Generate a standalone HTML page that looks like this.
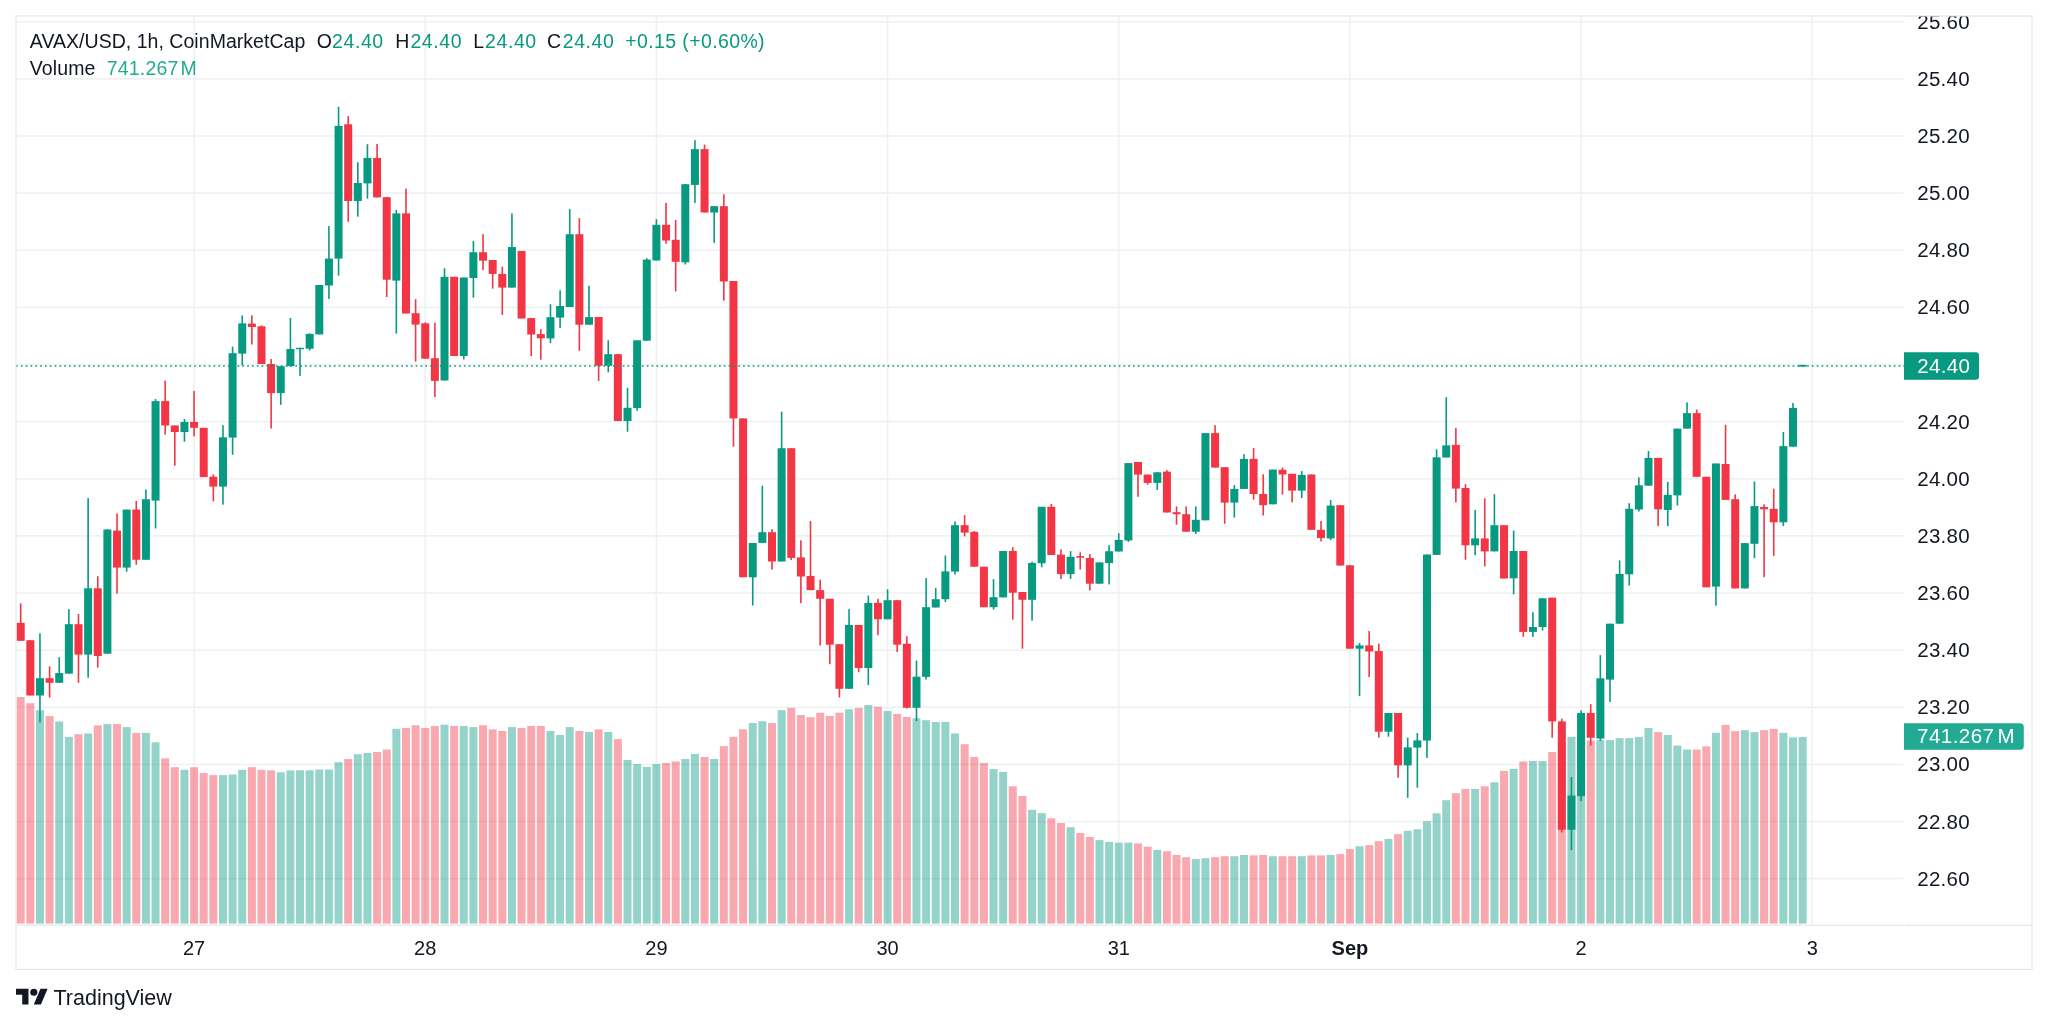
<!DOCTYPE html>
<html><head><meta charset="utf-8"><style>
html,body{margin:0;padding:0;background:#fff;width:2048px;height:1026px;overflow:hidden}
svg{position:absolute;left:0;top:0;display:block;will-change:transform}
text{font-family:"Liberation Sans",sans-serif}
.ax{font-size:20.5px;fill:#131722}
.tm{font-size:20px;fill:#131722}
.b{font-weight:bold}
.lg{font-size:19.5px;fill:#131722}
.up{fill:#089981}
.vu{fill:#22ab94}
</style></head><body>
<svg width="2048" height="1026" viewBox="0 0 2048 1026">
<rect width="2048" height="1026" fill="#fff"/>
<rect x="193.28" y="16.5" width="1.6" height="908" fill="#eff1f1"/>
<rect x="424.44" y="16.5" width="1.6" height="908" fill="#eff1f1"/>
<rect x="655.61" y="16.5" width="1.6" height="908" fill="#eff1f1"/>
<rect x="886.78" y="16.5" width="1.6" height="908" fill="#eff1f1"/>
<rect x="1117.95" y="16.5" width="1.6" height="908" fill="#eff1f1"/>
<rect x="1349.12" y="16.5" width="1.6" height="908" fill="#eff1f1"/>
<rect x="1580.28" y="16.5" width="1.6" height="908" fill="#eff1f1"/>
<rect x="1811.45" y="16.5" width="1.6" height="908" fill="#eff1f1"/>
<rect x="16.5" y="20.95" width="1887.3" height="1.6" fill="#eff1f1"/>
<rect x="16.5" y="78.08" width="1887.3" height="1.6" fill="#eff1f1"/>
<rect x="16.5" y="135.21" width="1887.3" height="1.6" fill="#eff1f1"/>
<rect x="16.5" y="192.34" width="1887.3" height="1.6" fill="#eff1f1"/>
<rect x="16.5" y="249.47" width="1887.3" height="1.6" fill="#eff1f1"/>
<rect x="16.5" y="306.60" width="1887.3" height="1.6" fill="#eff1f1"/>
<rect x="16.5" y="363.73" width="1887.3" height="1.6" fill="#eff1f1"/>
<rect x="16.5" y="420.86" width="1887.3" height="1.6" fill="#eff1f1"/>
<rect x="16.5" y="477.99" width="1887.3" height="1.6" fill="#eff1f1"/>
<rect x="16.5" y="535.12" width="1887.3" height="1.6" fill="#eff1f1"/>
<rect x="16.5" y="592.25" width="1887.3" height="1.6" fill="#eff1f1"/>
<rect x="16.5" y="649.38" width="1887.3" height="1.6" fill="#eff1f1"/>
<rect x="16.5" y="706.51" width="1887.3" height="1.6" fill="#eff1f1"/>
<rect x="16.5" y="763.64" width="1887.3" height="1.6" fill="#eff1f1"/>
<rect x="16.5" y="820.77" width="1887.3" height="1.6" fill="#eff1f1"/>
<rect x="16.5" y="877.90" width="1887.3" height="1.6" fill="#eff1f1"/>
<rect x="16.70" y="697.0" width="8.0" height="226.6" fill="rgba(242,54,69,0.43)"/>
<rect x="26.33" y="703.2" width="8.0" height="220.4" fill="rgba(242,54,69,0.43)"/>
<rect x="35.96" y="710.2" width="8.0" height="213.4" fill="rgba(8,153,129,0.43)"/>
<rect x="45.60" y="716.1" width="8.0" height="207.5" fill="rgba(242,54,69,0.43)"/>
<rect x="55.23" y="721.5" width="8.0" height="202.1" fill="rgba(8,153,129,0.43)"/>
<rect x="64.86" y="736.9" width="8.0" height="186.7" fill="rgba(8,153,129,0.43)"/>
<rect x="74.49" y="734.2" width="8.0" height="189.4" fill="rgba(242,54,69,0.43)"/>
<rect x="84.12" y="733.5" width="8.0" height="190.1" fill="rgba(8,153,129,0.43)"/>
<rect x="93.76" y="725.4" width="8.0" height="198.2" fill="rgba(242,54,69,0.43)"/>
<rect x="103.39" y="724.1" width="8.0" height="199.5" fill="rgba(8,153,129,0.43)"/>
<rect x="113.02" y="724.1" width="8.0" height="199.5" fill="rgba(242,54,69,0.43)"/>
<rect x="122.65" y="727.1" width="8.0" height="196.5" fill="rgba(8,153,129,0.43)"/>
<rect x="132.28" y="732.9" width="8.0" height="190.7" fill="rgba(242,54,69,0.43)"/>
<rect x="141.92" y="732.9" width="8.0" height="190.7" fill="rgba(8,153,129,0.43)"/>
<rect x="151.55" y="742.3" width="8.0" height="181.3" fill="rgba(8,153,129,0.43)"/>
<rect x="161.18" y="758.4" width="8.0" height="165.2" fill="rgba(242,54,69,0.43)"/>
<rect x="170.81" y="767.2" width="8.0" height="156.4" fill="rgba(242,54,69,0.43)"/>
<rect x="180.44" y="769.8" width="8.0" height="153.8" fill="rgba(8,153,129,0.43)"/>
<rect x="190.08" y="767.2" width="8.0" height="156.4" fill="rgba(242,54,69,0.43)"/>
<rect x="199.71" y="773.1" width="8.0" height="150.5" fill="rgba(242,54,69,0.43)"/>
<rect x="209.34" y="775.1" width="8.0" height="148.5" fill="rgba(242,54,69,0.43)"/>
<rect x="218.97" y="775.1" width="8.0" height="148.5" fill="rgba(8,153,129,0.43)"/>
<rect x="228.60" y="774.5" width="8.0" height="149.1" fill="rgba(8,153,129,0.43)"/>
<rect x="238.24" y="769.8" width="8.0" height="153.8" fill="rgba(8,153,129,0.43)"/>
<rect x="247.87" y="767.2" width="8.0" height="156.4" fill="rgba(242,54,69,0.43)"/>
<rect x="257.50" y="769.8" width="8.0" height="153.8" fill="rgba(242,54,69,0.43)"/>
<rect x="267.13" y="770.3" width="8.0" height="153.3" fill="rgba(242,54,69,0.43)"/>
<rect x="276.76" y="772.2" width="8.0" height="151.4" fill="rgba(8,153,129,0.43)"/>
<rect x="286.40" y="770.4" width="8.0" height="153.2" fill="rgba(8,153,129,0.43)"/>
<rect x="296.03" y="770.3" width="8.0" height="153.3" fill="rgba(8,153,129,0.43)"/>
<rect x="305.66" y="770.3" width="8.0" height="153.3" fill="rgba(8,153,129,0.43)"/>
<rect x="315.29" y="769.5" width="8.0" height="154.1" fill="rgba(8,153,129,0.43)"/>
<rect x="324.92" y="769.5" width="8.0" height="154.1" fill="rgba(8,153,129,0.43)"/>
<rect x="334.56" y="762.2" width="8.0" height="161.4" fill="rgba(8,153,129,0.43)"/>
<rect x="344.19" y="759.0" width="8.0" height="164.6" fill="rgba(242,54,69,0.43)"/>
<rect x="353.82" y="754.2" width="8.0" height="169.4" fill="rgba(8,153,129,0.43)"/>
<rect x="363.45" y="753.0" width="8.0" height="170.6" fill="rgba(8,153,129,0.43)"/>
<rect x="373.08" y="752.0" width="8.0" height="171.6" fill="rgba(242,54,69,0.43)"/>
<rect x="382.72" y="749.5" width="8.0" height="174.1" fill="rgba(242,54,69,0.43)"/>
<rect x="392.35" y="728.8" width="8.0" height="194.8" fill="rgba(8,153,129,0.43)"/>
<rect x="401.98" y="727.9" width="8.0" height="195.7" fill="rgba(242,54,69,0.43)"/>
<rect x="411.61" y="725.2" width="8.0" height="198.4" fill="rgba(242,54,69,0.43)"/>
<rect x="421.24" y="727.9" width="8.0" height="195.7" fill="rgba(242,54,69,0.43)"/>
<rect x="430.88" y="726.0" width="8.0" height="197.6" fill="rgba(242,54,69,0.43)"/>
<rect x="440.51" y="724.7" width="8.0" height="198.9" fill="rgba(8,153,129,0.43)"/>
<rect x="450.14" y="726.0" width="8.0" height="197.6" fill="rgba(242,54,69,0.43)"/>
<rect x="459.77" y="726.0" width="8.0" height="197.6" fill="rgba(8,153,129,0.43)"/>
<rect x="469.40" y="727.1" width="8.0" height="196.5" fill="rgba(8,153,129,0.43)"/>
<rect x="479.04" y="725.2" width="8.0" height="198.4" fill="rgba(242,54,69,0.43)"/>
<rect x="488.67" y="729.4" width="8.0" height="194.2" fill="rgba(242,54,69,0.43)"/>
<rect x="498.30" y="731.0" width="8.0" height="192.6" fill="rgba(242,54,69,0.43)"/>
<rect x="507.93" y="727.1" width="8.0" height="196.5" fill="rgba(8,153,129,0.43)"/>
<rect x="517.56" y="727.9" width="8.0" height="195.7" fill="rgba(242,54,69,0.43)"/>
<rect x="527.20" y="726.0" width="8.0" height="197.6" fill="rgba(242,54,69,0.43)"/>
<rect x="536.83" y="726.0" width="8.0" height="197.6" fill="rgba(242,54,69,0.43)"/>
<rect x="546.46" y="731.0" width="8.0" height="192.6" fill="rgba(8,153,129,0.43)"/>
<rect x="556.09" y="735.0" width="8.0" height="188.6" fill="rgba(8,153,129,0.43)"/>
<rect x="565.72" y="727.1" width="8.0" height="196.5" fill="rgba(8,153,129,0.43)"/>
<rect x="575.36" y="731.0" width="8.0" height="192.6" fill="rgba(242,54,69,0.43)"/>
<rect x="584.99" y="732.0" width="8.0" height="191.6" fill="rgba(8,153,129,0.43)"/>
<rect x="594.62" y="729.4" width="8.0" height="194.2" fill="rgba(242,54,69,0.43)"/>
<rect x="604.25" y="732.0" width="8.0" height="191.6" fill="rgba(8,153,129,0.43)"/>
<rect x="613.88" y="739.1" width="8.0" height="184.5" fill="rgba(242,54,69,0.43)"/>
<rect x="623.52" y="760.0" width="8.0" height="163.6" fill="rgba(8,153,129,0.43)"/>
<rect x="633.15" y="764.0" width="8.0" height="159.6" fill="rgba(8,153,129,0.43)"/>
<rect x="642.78" y="766.9" width="8.0" height="156.7" fill="rgba(8,153,129,0.43)"/>
<rect x="652.41" y="764.0" width="8.0" height="159.6" fill="rgba(8,153,129,0.43)"/>
<rect x="662.04" y="763.0" width="8.0" height="160.6" fill="rgba(242,54,69,0.43)"/>
<rect x="671.68" y="761.5" width="8.0" height="162.1" fill="rgba(242,54,69,0.43)"/>
<rect x="681.31" y="759.0" width="8.0" height="164.6" fill="rgba(8,153,129,0.43)"/>
<rect x="690.94" y="754.0" width="8.0" height="169.6" fill="rgba(8,153,129,0.43)"/>
<rect x="700.57" y="756.9" width="8.0" height="166.7" fill="rgba(242,54,69,0.43)"/>
<rect x="710.20" y="759.0" width="8.0" height="164.6" fill="rgba(8,153,129,0.43)"/>
<rect x="719.84" y="746.1" width="8.0" height="177.5" fill="rgba(242,54,69,0.43)"/>
<rect x="729.47" y="736.9" width="8.0" height="186.7" fill="rgba(242,54,69,0.43)"/>
<rect x="739.10" y="729.3" width="8.0" height="194.3" fill="rgba(242,54,69,0.43)"/>
<rect x="748.73" y="723.0" width="8.0" height="200.6" fill="rgba(8,153,129,0.43)"/>
<rect x="758.36" y="721.2" width="8.0" height="202.4" fill="rgba(8,153,129,0.43)"/>
<rect x="768.00" y="723.0" width="8.0" height="200.6" fill="rgba(242,54,69,0.43)"/>
<rect x="777.63" y="710.1" width="8.0" height="213.5" fill="rgba(8,153,129,0.43)"/>
<rect x="787.26" y="707.9" width="8.0" height="215.7" fill="rgba(242,54,69,0.43)"/>
<rect x="796.89" y="715.0" width="8.0" height="208.6" fill="rgba(242,54,69,0.43)"/>
<rect x="806.52" y="717.2" width="8.0" height="206.4" fill="rgba(242,54,69,0.43)"/>
<rect x="816.16" y="712.7" width="8.0" height="210.9" fill="rgba(242,54,69,0.43)"/>
<rect x="825.79" y="715.9" width="8.0" height="207.7" fill="rgba(242,54,69,0.43)"/>
<rect x="835.42" y="712.7" width="8.0" height="210.9" fill="rgba(242,54,69,0.43)"/>
<rect x="845.05" y="709.2" width="8.0" height="214.4" fill="rgba(8,153,129,0.43)"/>
<rect x="854.68" y="707.9" width="8.0" height="215.7" fill="rgba(242,54,69,0.43)"/>
<rect x="864.32" y="705.1" width="8.0" height="218.5" fill="rgba(8,153,129,0.43)"/>
<rect x="873.95" y="706.8" width="8.0" height="216.8" fill="rgba(242,54,69,0.43)"/>
<rect x="883.58" y="711.0" width="8.0" height="212.6" fill="rgba(8,153,129,0.43)"/>
<rect x="893.21" y="714.0" width="8.0" height="209.6" fill="rgba(242,54,69,0.43)"/>
<rect x="902.84" y="716.9" width="8.0" height="206.7" fill="rgba(242,54,69,0.43)"/>
<rect x="912.48" y="718.2" width="8.0" height="205.4" fill="rgba(8,153,129,0.43)"/>
<rect x="922.11" y="720.2" width="8.0" height="203.4" fill="rgba(8,153,129,0.43)"/>
<rect x="931.74" y="722.0" width="8.0" height="201.6" fill="rgba(8,153,129,0.43)"/>
<rect x="941.37" y="722.0" width="8.0" height="201.6" fill="rgba(8,153,129,0.43)"/>
<rect x="951.00" y="733.4" width="8.0" height="190.2" fill="rgba(8,153,129,0.43)"/>
<rect x="960.64" y="744.2" width="8.0" height="179.4" fill="rgba(242,54,69,0.43)"/>
<rect x="970.27" y="757.0" width="8.0" height="166.6" fill="rgba(242,54,69,0.43)"/>
<rect x="979.90" y="762.9" width="8.0" height="160.7" fill="rgba(242,54,69,0.43)"/>
<rect x="989.53" y="769.0" width="8.0" height="154.6" fill="rgba(8,153,129,0.43)"/>
<rect x="999.16" y="772.0" width="8.0" height="151.6" fill="rgba(8,153,129,0.43)"/>
<rect x="1008.80" y="786.3" width="8.0" height="137.3" fill="rgba(242,54,69,0.43)"/>
<rect x="1018.43" y="796.0" width="8.0" height="127.6" fill="rgba(242,54,69,0.43)"/>
<rect x="1028.06" y="809.8" width="8.0" height="113.8" fill="rgba(8,153,129,0.43)"/>
<rect x="1037.69" y="813.1" width="8.0" height="110.5" fill="rgba(8,153,129,0.43)"/>
<rect x="1047.32" y="818.4" width="8.0" height="105.2" fill="rgba(242,54,69,0.43)"/>
<rect x="1056.96" y="823.0" width="8.0" height="100.6" fill="rgba(242,54,69,0.43)"/>
<rect x="1066.59" y="827.2" width="8.0" height="96.4" fill="rgba(8,153,129,0.43)"/>
<rect x="1076.22" y="833.0" width="8.0" height="90.6" fill="rgba(242,54,69,0.43)"/>
<rect x="1085.85" y="837.0" width="8.0" height="86.6" fill="rgba(242,54,69,0.43)"/>
<rect x="1095.48" y="840.1" width="8.0" height="83.5" fill="rgba(8,153,129,0.43)"/>
<rect x="1105.12" y="841.9" width="8.0" height="81.7" fill="rgba(8,153,129,0.43)"/>
<rect x="1114.75" y="842.6" width="8.0" height="81.0" fill="rgba(8,153,129,0.43)"/>
<rect x="1124.38" y="842.6" width="8.0" height="81.0" fill="rgba(8,153,129,0.43)"/>
<rect x="1134.01" y="843.4" width="8.0" height="80.2" fill="rgba(242,54,69,0.43)"/>
<rect x="1143.64" y="846.7" width="8.0" height="76.9" fill="rgba(242,54,69,0.43)"/>
<rect x="1153.28" y="849.9" width="8.0" height="73.7" fill="rgba(8,153,129,0.43)"/>
<rect x="1162.91" y="851.2" width="8.0" height="72.4" fill="rgba(242,54,69,0.43)"/>
<rect x="1172.54" y="855.0" width="8.0" height="68.6" fill="rgba(242,54,69,0.43)"/>
<rect x="1182.17" y="857.2" width="8.0" height="66.4" fill="rgba(242,54,69,0.43)"/>
<rect x="1191.80" y="859.1" width="8.0" height="64.5" fill="rgba(8,153,129,0.43)"/>
<rect x="1201.44" y="858.2" width="8.0" height="65.4" fill="rgba(8,153,129,0.43)"/>
<rect x="1211.07" y="857.2" width="8.0" height="66.4" fill="rgba(242,54,69,0.43)"/>
<rect x="1220.70" y="856.2" width="8.0" height="67.4" fill="rgba(242,54,69,0.43)"/>
<rect x="1230.33" y="856.2" width="8.0" height="67.4" fill="rgba(8,153,129,0.43)"/>
<rect x="1239.96" y="855.0" width="8.0" height="68.6" fill="rgba(8,153,129,0.43)"/>
<rect x="1249.60" y="855.4" width="8.0" height="68.2" fill="rgba(242,54,69,0.43)"/>
<rect x="1259.23" y="855.0" width="8.0" height="68.6" fill="rgba(242,54,69,0.43)"/>
<rect x="1268.86" y="856.2" width="8.0" height="67.4" fill="rgba(8,153,129,0.43)"/>
<rect x="1278.49" y="856.2" width="8.0" height="67.4" fill="rgba(242,54,69,0.43)"/>
<rect x="1288.12" y="856.2" width="8.0" height="67.4" fill="rgba(242,54,69,0.43)"/>
<rect x="1297.76" y="856.2" width="8.0" height="67.4" fill="rgba(8,153,129,0.43)"/>
<rect x="1307.39" y="855.4" width="8.0" height="68.2" fill="rgba(242,54,69,0.43)"/>
<rect x="1317.02" y="855.4" width="8.0" height="68.2" fill="rgba(242,54,69,0.43)"/>
<rect x="1326.65" y="855.0" width="8.0" height="68.6" fill="rgba(8,153,129,0.43)"/>
<rect x="1336.28" y="854.1" width="8.0" height="69.5" fill="rgba(242,54,69,0.43)"/>
<rect x="1345.92" y="849.1" width="8.0" height="74.5" fill="rgba(242,54,69,0.43)"/>
<rect x="1355.55" y="846.2" width="8.0" height="77.4" fill="rgba(8,153,129,0.43)"/>
<rect x="1365.18" y="845.2" width="8.0" height="78.4" fill="rgba(242,54,69,0.43)"/>
<rect x="1374.81" y="841.2" width="8.0" height="82.4" fill="rgba(242,54,69,0.43)"/>
<rect x="1384.44" y="838.9" width="8.0" height="84.7" fill="rgba(8,153,129,0.43)"/>
<rect x="1394.08" y="834.2" width="8.0" height="89.4" fill="rgba(242,54,69,0.43)"/>
<rect x="1403.71" y="830.8" width="8.0" height="92.8" fill="rgba(8,153,129,0.43)"/>
<rect x="1413.34" y="829.2" width="8.0" height="94.4" fill="rgba(8,153,129,0.43)"/>
<rect x="1422.97" y="821.2" width="8.0" height="102.4" fill="rgba(8,153,129,0.43)"/>
<rect x="1432.60" y="813.3" width="8.0" height="110.3" fill="rgba(8,153,129,0.43)"/>
<rect x="1442.24" y="800.2" width="8.0" height="123.4" fill="rgba(8,153,129,0.43)"/>
<rect x="1451.87" y="793.2" width="8.0" height="130.4" fill="rgba(242,54,69,0.43)"/>
<rect x="1461.50" y="789.0" width="8.0" height="134.6" fill="rgba(242,54,69,0.43)"/>
<rect x="1471.13" y="789.0" width="8.0" height="134.6" fill="rgba(8,153,129,0.43)"/>
<rect x="1480.76" y="786.3" width="8.0" height="137.3" fill="rgba(242,54,69,0.43)"/>
<rect x="1490.40" y="782.3" width="8.0" height="141.3" fill="rgba(8,153,129,0.43)"/>
<rect x="1500.03" y="770.9" width="8.0" height="152.7" fill="rgba(242,54,69,0.43)"/>
<rect x="1509.66" y="768.8" width="8.0" height="154.8" fill="rgba(8,153,129,0.43)"/>
<rect x="1519.29" y="761.5" width="8.0" height="162.1" fill="rgba(242,54,69,0.43)"/>
<rect x="1528.92" y="761.0" width="8.0" height="162.6" fill="rgba(8,153,129,0.43)"/>
<rect x="1538.56" y="761.0" width="8.0" height="162.6" fill="rgba(8,153,129,0.43)"/>
<rect x="1548.19" y="751.9" width="8.0" height="171.7" fill="rgba(242,54,69,0.43)"/>
<rect x="1557.82" y="742.0" width="8.0" height="181.6" fill="rgba(242,54,69,0.43)"/>
<rect x="1567.45" y="736.9" width="8.0" height="186.7" fill="rgba(8,153,129,0.43)"/>
<rect x="1577.08" y="737.0" width="8.0" height="186.6" fill="rgba(8,153,129,0.43)"/>
<rect x="1586.72" y="740.6" width="8.0" height="183.0" fill="rgba(242,54,69,0.43)"/>
<rect x="1596.35" y="740.1" width="8.0" height="183.5" fill="rgba(8,153,129,0.43)"/>
<rect x="1605.98" y="740.1" width="8.0" height="183.5" fill="rgba(8,153,129,0.43)"/>
<rect x="1615.61" y="738.1" width="8.0" height="185.5" fill="rgba(8,153,129,0.43)"/>
<rect x="1625.24" y="738.1" width="8.0" height="185.5" fill="rgba(8,153,129,0.43)"/>
<rect x="1634.88" y="736.9" width="8.0" height="186.7" fill="rgba(8,153,129,0.43)"/>
<rect x="1644.51" y="728.0" width="8.0" height="195.6" fill="rgba(8,153,129,0.43)"/>
<rect x="1654.14" y="732.1" width="8.0" height="191.5" fill="rgba(242,54,69,0.43)"/>
<rect x="1663.77" y="735.0" width="8.0" height="188.6" fill="rgba(8,153,129,0.43)"/>
<rect x="1673.40" y="745.6" width="8.0" height="178.0" fill="rgba(8,153,129,0.43)"/>
<rect x="1683.04" y="749.5" width="8.0" height="174.1" fill="rgba(8,153,129,0.43)"/>
<rect x="1692.67" y="749.5" width="8.0" height="174.1" fill="rgba(242,54,69,0.43)"/>
<rect x="1702.30" y="746.3" width="8.0" height="177.3" fill="rgba(242,54,69,0.43)"/>
<rect x="1711.93" y="732.8" width="8.0" height="190.8" fill="rgba(8,153,129,0.43)"/>
<rect x="1721.56" y="724.9" width="8.0" height="198.7" fill="rgba(242,54,69,0.43)"/>
<rect x="1731.20" y="731.1" width="8.0" height="192.5" fill="rgba(242,54,69,0.43)"/>
<rect x="1740.83" y="730.2" width="8.0" height="193.4" fill="rgba(8,153,129,0.43)"/>
<rect x="1750.46" y="732.1" width="8.0" height="191.5" fill="rgba(8,153,129,0.43)"/>
<rect x="1760.09" y="730.2" width="8.0" height="193.4" fill="rgba(242,54,69,0.43)"/>
<rect x="1769.72" y="728.8" width="8.0" height="194.8" fill="rgba(242,54,69,0.43)"/>
<rect x="1779.36" y="732.8" width="8.0" height="190.8" fill="rgba(8,153,129,0.43)"/>
<rect x="1788.99" y="737.4" width="8.0" height="186.2" fill="rgba(8,153,129,0.43)"/>
<rect x="1798.62" y="736.9" width="8.0" height="186.7" fill="rgba(8,153,129,0.43)"/>
<rect x="19.90" y="603.3" width="1.6" height="37.5" fill="#f23645"/>
<rect x="16.70" y="622.8" width="8.0" height="18.0" fill="#f23645"/>
<rect x="29.53" y="640.2" width="1.6" height="55.3" fill="#f23645"/>
<rect x="26.33" y="640.2" width="8.0" height="55.3" fill="#f23645"/>
<rect x="39.16" y="633.4" width="1.6" height="89.1" fill="#089981"/>
<rect x="35.96" y="678.2" width="8.0" height="17.3" fill="#089981"/>
<rect x="48.80" y="666.3" width="1.6" height="31.4" fill="#f23645"/>
<rect x="45.60" y="678.2" width="8.0" height="4.6" fill="#f23645"/>
<rect x="58.43" y="657.2" width="1.6" height="25.6" fill="#089981"/>
<rect x="55.23" y="673.1" width="8.0" height="9.7" fill="#089981"/>
<rect x="68.06" y="609.2" width="1.6" height="64.4" fill="#089981"/>
<rect x="64.86" y="624.2" width="8.0" height="49.4" fill="#089981"/>
<rect x="77.69" y="614.0" width="1.6" height="68.8" fill="#f23645"/>
<rect x="74.49" y="624.2" width="8.0" height="30.4" fill="#f23645"/>
<rect x="87.32" y="498.1" width="1.6" height="179.6" fill="#089981"/>
<rect x="84.12" y="588.3" width="8.0" height="66.3" fill="#089981"/>
<rect x="96.96" y="576.2" width="1.6" height="91.4" fill="#f23645"/>
<rect x="93.76" y="588.3" width="8.0" height="67.7" fill="#f23645"/>
<rect x="106.59" y="529.3" width="1.6" height="124.4" fill="#089981"/>
<rect x="103.39" y="529.5" width="8.0" height="124.2" fill="#089981"/>
<rect x="116.22" y="513.5" width="1.6" height="80.1" fill="#f23645"/>
<rect x="113.02" y="530.6" width="8.0" height="37.0" fill="#f23645"/>
<rect x="125.85" y="509.6" width="1.6" height="62.1" fill="#089981"/>
<rect x="122.65" y="509.6" width="8.0" height="58.0" fill="#089981"/>
<rect x="135.48" y="501.0" width="1.6" height="63.8" fill="#f23645"/>
<rect x="132.28" y="509.6" width="8.0" height="50.2" fill="#f23645"/>
<rect x="145.12" y="489.4" width="1.6" height="70.4" fill="#089981"/>
<rect x="141.92" y="499.2" width="8.0" height="60.6" fill="#089981"/>
<rect x="154.75" y="399.0" width="1.6" height="129.5" fill="#089981"/>
<rect x="151.55" y="401.1" width="8.0" height="99.5" fill="#089981"/>
<rect x="164.38" y="380.6" width="1.6" height="54.1" fill="#f23645"/>
<rect x="161.18" y="401.1" width="8.0" height="24.4" fill="#f23645"/>
<rect x="174.01" y="425.5" width="1.6" height="40.2" fill="#f23645"/>
<rect x="170.81" y="425.5" width="8.0" height="6.5" fill="#f23645"/>
<rect x="183.64" y="419.0" width="1.6" height="22.7" fill="#089981"/>
<rect x="180.44" y="422.0" width="8.0" height="10.0" fill="#089981"/>
<rect x="193.28" y="390.9" width="1.6" height="45.5" fill="#f23645"/>
<rect x="190.08" y="422.0" width="8.0" height="5.8" fill="#f23645"/>
<rect x="202.91" y="427.8" width="1.6" height="49.3" fill="#f23645"/>
<rect x="199.71" y="427.8" width="8.0" height="49.3" fill="#f23645"/>
<rect x="212.54" y="474.3" width="1.6" height="27.1" fill="#f23645"/>
<rect x="209.34" y="476.7" width="8.0" height="9.9" fill="#f23645"/>
<rect x="222.17" y="425.2" width="1.6" height="79.5" fill="#089981"/>
<rect x="218.97" y="437.3" width="8.0" height="49.3" fill="#089981"/>
<rect x="231.80" y="346.7" width="1.6" height="108.1" fill="#089981"/>
<rect x="228.60" y="353.2" width="8.0" height="84.4" fill="#089981"/>
<rect x="241.44" y="315.3" width="1.6" height="50.2" fill="#089981"/>
<rect x="238.24" y="323.4" width="8.0" height="30.2" fill="#089981"/>
<rect x="251.07" y="315.3" width="1.6" height="29.2" fill="#f23645"/>
<rect x="247.87" y="323.6" width="8.0" height="3.4" fill="#f23645"/>
<rect x="260.70" y="325.4" width="1.6" height="38.6" fill="#f23645"/>
<rect x="257.50" y="326.3" width="8.0" height="37.7" fill="#f23645"/>
<rect x="270.33" y="359.0" width="1.6" height="69.5" fill="#f23645"/>
<rect x="267.13" y="364.0" width="8.0" height="29.1" fill="#f23645"/>
<rect x="279.96" y="366.2" width="1.6" height="38.6" fill="#089981"/>
<rect x="276.76" y="366.2" width="8.0" height="26.9" fill="#089981"/>
<rect x="289.60" y="318.0" width="1.6" height="48.2" fill="#089981"/>
<rect x="286.40" y="349.0" width="8.0" height="17.2" fill="#089981"/>
<rect x="299.23" y="347.8" width="1.6" height="28.1" fill="#089981"/>
<rect x="296.03" y="347.8" width="8.0" height="1.4" fill="#089981"/>
<rect x="308.86" y="333.3" width="1.6" height="17.2" fill="#089981"/>
<rect x="305.66" y="333.9" width="8.0" height="14.8" fill="#089981"/>
<rect x="318.49" y="285.0" width="1.6" height="49.4" fill="#089981"/>
<rect x="315.29" y="285.0" width="8.0" height="49.4" fill="#089981"/>
<rect x="328.12" y="226.1" width="1.6" height="72.8" fill="#089981"/>
<rect x="324.92" y="258.6" width="8.0" height="26.9" fill="#089981"/>
<rect x="337.76" y="106.8" width="1.6" height="168.8" fill="#089981"/>
<rect x="334.56" y="125.9" width="8.0" height="132.7" fill="#089981"/>
<rect x="347.39" y="116.2" width="1.6" height="105.6" fill="#f23645"/>
<rect x="344.19" y="124.3" width="8.0" height="76.7" fill="#f23645"/>
<rect x="357.02" y="162.2" width="1.6" height="54.5" fill="#089981"/>
<rect x="353.82" y="183.0" width="8.0" height="18.0" fill="#089981"/>
<rect x="366.65" y="144.2" width="1.6" height="54.5" fill="#089981"/>
<rect x="363.45" y="157.9" width="8.0" height="25.5" fill="#089981"/>
<rect x="376.28" y="143.9" width="1.6" height="53.5" fill="#f23645"/>
<rect x="373.08" y="158.0" width="8.0" height="39.4" fill="#f23645"/>
<rect x="385.92" y="197.2" width="1.6" height="99.8" fill="#f23645"/>
<rect x="382.72" y="197.2" width="8.0" height="82.5" fill="#f23645"/>
<rect x="395.55" y="210.0" width="1.6" height="123.6" fill="#089981"/>
<rect x="392.35" y="213.4" width="8.0" height="67.2" fill="#089981"/>
<rect x="405.18" y="188.7" width="1.6" height="124.8" fill="#f23645"/>
<rect x="401.98" y="213.4" width="8.0" height="100.1" fill="#f23645"/>
<rect x="414.81" y="299.2" width="1.6" height="62.4" fill="#f23645"/>
<rect x="411.61" y="313.2" width="8.0" height="11.4" fill="#f23645"/>
<rect x="424.44" y="322.3" width="1.6" height="36.4" fill="#f23645"/>
<rect x="421.24" y="323.3" width="8.0" height="35.4" fill="#f23645"/>
<rect x="434.08" y="322.7" width="1.6" height="74.4" fill="#f23645"/>
<rect x="430.88" y="358.2" width="8.0" height="22.7" fill="#f23645"/>
<rect x="443.71" y="268.3" width="1.6" height="112.2" fill="#089981"/>
<rect x="440.51" y="276.8" width="8.0" height="103.7" fill="#089981"/>
<rect x="453.34" y="276.8" width="1.6" height="79.2" fill="#f23645"/>
<rect x="450.14" y="276.8" width="8.0" height="79.2" fill="#f23645"/>
<rect x="462.97" y="277.5" width="1.6" height="81.9" fill="#089981"/>
<rect x="459.77" y="277.5" width="8.0" height="78.5" fill="#089981"/>
<rect x="472.60" y="241.0" width="1.6" height="56.7" fill="#089981"/>
<rect x="469.40" y="252.2" width="8.0" height="25.8" fill="#089981"/>
<rect x="482.24" y="234.2" width="1.6" height="35.9" fill="#f23645"/>
<rect x="479.04" y="252.2" width="8.0" height="8.5" fill="#f23645"/>
<rect x="491.87" y="260.0" width="1.6" height="28.7" fill="#f23645"/>
<rect x="488.67" y="260.0" width="8.0" height="13.9" fill="#f23645"/>
<rect x="501.50" y="266.7" width="1.6" height="48.3" fill="#f23645"/>
<rect x="498.30" y="273.9" width="8.0" height="13.7" fill="#f23645"/>
<rect x="511.13" y="213.4" width="1.6" height="74.2" fill="#089981"/>
<rect x="507.93" y="247.0" width="8.0" height="40.6" fill="#089981"/>
<rect x="520.76" y="251.0" width="1.6" height="67.5" fill="#f23645"/>
<rect x="517.56" y="251.0" width="8.0" height="67.5" fill="#f23645"/>
<rect x="530.40" y="317.9" width="1.6" height="38.1" fill="#f23645"/>
<rect x="527.20" y="318.1" width="8.0" height="16.4" fill="#f23645"/>
<rect x="540.03" y="329.2" width="1.6" height="30.5" fill="#f23645"/>
<rect x="536.83" y="334.1" width="8.0" height="4.2" fill="#f23645"/>
<rect x="549.66" y="304.2" width="1.6" height="39.0" fill="#089981"/>
<rect x="546.46" y="317.2" width="8.0" height="21.2" fill="#089981"/>
<rect x="559.29" y="290.3" width="1.6" height="37.7" fill="#089981"/>
<rect x="556.09" y="306.0" width="8.0" height="11.6" fill="#089981"/>
<rect x="568.92" y="209.1" width="1.6" height="97.9" fill="#089981"/>
<rect x="565.72" y="234.2" width="8.0" height="72.8" fill="#089981"/>
<rect x="578.56" y="218.1" width="1.6" height="132.7" fill="#f23645"/>
<rect x="575.36" y="234.2" width="8.0" height="90.5" fill="#f23645"/>
<rect x="588.19" y="285.8" width="1.6" height="38.9" fill="#089981"/>
<rect x="584.99" y="317.1" width="8.0" height="7.6" fill="#089981"/>
<rect x="597.82" y="317.0" width="1.6" height="63.9" fill="#f23645"/>
<rect x="594.62" y="317.0" width="8.0" height="48.8" fill="#f23645"/>
<rect x="607.45" y="340.3" width="1.6" height="32.0" fill="#089981"/>
<rect x="604.25" y="354.2" width="8.0" height="11.6" fill="#089981"/>
<rect x="617.08" y="354.2" width="1.6" height="66.8" fill="#f23645"/>
<rect x="613.88" y="354.2" width="8.0" height="66.8" fill="#f23645"/>
<rect x="626.72" y="387.7" width="1.6" height="44.0" fill="#089981"/>
<rect x="623.52" y="407.8" width="8.0" height="13.2" fill="#089981"/>
<rect x="636.35" y="340.3" width="1.6" height="70.5" fill="#089981"/>
<rect x="633.15" y="340.3" width="8.0" height="67.8" fill="#089981"/>
<rect x="645.98" y="258.2" width="1.6" height="82.5" fill="#089981"/>
<rect x="642.78" y="259.6" width="8.0" height="81.1" fill="#089981"/>
<rect x="655.61" y="219.2" width="1.6" height="41.3" fill="#089981"/>
<rect x="652.41" y="224.8" width="8.0" height="35.7" fill="#089981"/>
<rect x="665.24" y="202.9" width="1.6" height="40.8" fill="#f23645"/>
<rect x="662.04" y="224.8" width="8.0" height="15.7" fill="#f23645"/>
<rect x="674.88" y="220.1" width="1.6" height="71.3" fill="#f23645"/>
<rect x="671.68" y="239.8" width="8.0" height="22.0" fill="#f23645"/>
<rect x="684.51" y="184.2" width="1.6" height="80.3" fill="#089981"/>
<rect x="681.31" y="184.2" width="8.0" height="78.1" fill="#089981"/>
<rect x="694.14" y="140.1" width="1.6" height="62.8" fill="#089981"/>
<rect x="690.94" y="149.1" width="8.0" height="35.8" fill="#089981"/>
<rect x="703.77" y="144.6" width="1.6" height="67.9" fill="#f23645"/>
<rect x="700.57" y="149.1" width="8.0" height="63.4" fill="#f23645"/>
<rect x="713.40" y="206.2" width="1.6" height="36.6" fill="#089981"/>
<rect x="710.20" y="206.2" width="8.0" height="6.3" fill="#089981"/>
<rect x="723.04" y="194.3" width="1.6" height="106.4" fill="#f23645"/>
<rect x="719.84" y="206.2" width="8.0" height="75.3" fill="#f23645"/>
<rect x="732.67" y="281.0" width="1.6" height="165.7" fill="#f23645"/>
<rect x="729.47" y="281.0" width="8.0" height="137.4" fill="#f23645"/>
<rect x="742.30" y="418.4" width="1.6" height="158.8" fill="#f23645"/>
<rect x="739.10" y="418.4" width="8.0" height="158.8" fill="#f23645"/>
<rect x="751.93" y="543.0" width="1.6" height="62.5" fill="#089981"/>
<rect x="748.73" y="543.0" width="8.0" height="34.3" fill="#089981"/>
<rect x="761.56" y="485.8" width="1.6" height="57.1" fill="#089981"/>
<rect x="758.36" y="532.2" width="8.0" height="10.7" fill="#089981"/>
<rect x="771.20" y="529.2" width="1.6" height="40.4" fill="#f23645"/>
<rect x="768.00" y="532.2" width="8.0" height="29.3" fill="#f23645"/>
<rect x="780.83" y="411.7" width="1.6" height="149.8" fill="#089981"/>
<rect x="777.63" y="448.2" width="8.0" height="113.3" fill="#089981"/>
<rect x="790.46" y="448.2" width="1.6" height="111.9" fill="#f23645"/>
<rect x="787.26" y="448.2" width="8.0" height="109.7" fill="#f23645"/>
<rect x="800.09" y="540.4" width="1.6" height="62.8" fill="#f23645"/>
<rect x="796.89" y="557.4" width="8.0" height="19.1" fill="#f23645"/>
<rect x="809.72" y="521.1" width="1.6" height="69.0" fill="#f23645"/>
<rect x="806.52" y="575.9" width="8.0" height="14.2" fill="#f23645"/>
<rect x="819.36" y="579.7" width="1.6" height="65.8" fill="#f23645"/>
<rect x="816.16" y="590.1" width="8.0" height="8.7" fill="#f23645"/>
<rect x="828.99" y="598.8" width="1.6" height="65.4" fill="#f23645"/>
<rect x="825.79" y="598.8" width="8.0" height="45.9" fill="#f23645"/>
<rect x="838.62" y="644.2" width="1.6" height="53.3" fill="#f23645"/>
<rect x="835.42" y="644.2" width="8.0" height="44.6" fill="#f23645"/>
<rect x="848.25" y="609.2" width="1.6" height="79.6" fill="#089981"/>
<rect x="845.05" y="625.0" width="8.0" height="63.8" fill="#089981"/>
<rect x="857.88" y="625.0" width="1.6" height="47.2" fill="#f23645"/>
<rect x="854.68" y="625.0" width="8.0" height="43.0" fill="#f23645"/>
<rect x="867.52" y="595.6" width="1.6" height="89.4" fill="#089981"/>
<rect x="864.32" y="602.9" width="8.0" height="65.1" fill="#089981"/>
<rect x="877.15" y="598.8" width="1.6" height="36.4" fill="#f23645"/>
<rect x="873.95" y="602.9" width="8.0" height="16.4" fill="#f23645"/>
<rect x="886.78" y="589.3" width="1.6" height="30.0" fill="#089981"/>
<rect x="883.58" y="600.2" width="8.0" height="19.1" fill="#089981"/>
<rect x="896.41" y="600.2" width="1.6" height="51.8" fill="#f23645"/>
<rect x="893.21" y="600.2" width="8.0" height="44.5" fill="#f23645"/>
<rect x="906.04" y="636.2" width="1.6" height="72.3" fill="#f23645"/>
<rect x="902.84" y="643.7" width="8.0" height="64.1" fill="#f23645"/>
<rect x="915.68" y="660.5" width="1.6" height="60.6" fill="#089981"/>
<rect x="912.48" y="676.7" width="8.0" height="31.1" fill="#089981"/>
<rect x="925.31" y="578.1" width="1.6" height="101.5" fill="#089981"/>
<rect x="922.11" y="607.2" width="8.0" height="69.7" fill="#089981"/>
<rect x="934.94" y="588.0" width="1.6" height="19.5" fill="#089981"/>
<rect x="931.74" y="599.2" width="8.0" height="8.3" fill="#089981"/>
<rect x="944.57" y="555.5" width="1.6" height="46.6" fill="#089981"/>
<rect x="941.37" y="571.4" width="8.0" height="27.8" fill="#089981"/>
<rect x="954.20" y="521.4" width="1.6" height="53.1" fill="#089981"/>
<rect x="951.00" y="525.2" width="8.0" height="46.4" fill="#089981"/>
<rect x="963.84" y="515.1" width="1.6" height="21.3" fill="#f23645"/>
<rect x="960.64" y="525.2" width="8.0" height="7.4" fill="#f23645"/>
<rect x="973.47" y="531.0" width="1.6" height="35.7" fill="#f23645"/>
<rect x="970.27" y="531.9" width="8.0" height="34.8" fill="#f23645"/>
<rect x="983.10" y="566.7" width="1.6" height="40.5" fill="#f23645"/>
<rect x="979.90" y="566.7" width="8.0" height="40.5" fill="#f23645"/>
<rect x="992.73" y="579.2" width="1.6" height="30.3" fill="#089981"/>
<rect x="989.53" y="597.2" width="8.0" height="10.0" fill="#089981"/>
<rect x="1002.36" y="551.0" width="1.6" height="46.4" fill="#089981"/>
<rect x="999.16" y="551.0" width="8.0" height="46.4" fill="#089981"/>
<rect x="1012.00" y="547.2" width="1.6" height="72.4" fill="#f23645"/>
<rect x="1008.80" y="551.0" width="8.0" height="41.7" fill="#f23645"/>
<rect x="1021.63" y="592.0" width="1.6" height="56.7" fill="#f23645"/>
<rect x="1018.43" y="592.0" width="8.0" height="7.8" fill="#f23645"/>
<rect x="1031.26" y="561.7" width="1.6" height="59.0" fill="#089981"/>
<rect x="1028.06" y="562.9" width="8.0" height="36.9" fill="#089981"/>
<rect x="1040.89" y="506.8" width="1.6" height="60.5" fill="#089981"/>
<rect x="1037.69" y="506.8" width="8.0" height="56.5" fill="#089981"/>
<rect x="1050.52" y="503.9" width="1.6" height="51.1" fill="#f23645"/>
<rect x="1047.32" y="506.8" width="8.0" height="48.2" fill="#f23645"/>
<rect x="1060.16" y="549.4" width="1.6" height="29.6" fill="#f23645"/>
<rect x="1056.96" y="554.6" width="8.0" height="19.5" fill="#f23645"/>
<rect x="1069.79" y="551.2" width="1.6" height="27.8" fill="#089981"/>
<rect x="1066.59" y="556.8" width="8.0" height="17.3" fill="#089981"/>
<rect x="1079.42" y="552.3" width="1.6" height="17.3" fill="#f23645"/>
<rect x="1076.22" y="556.1" width="8.0" height="1.6" fill="#f23645"/>
<rect x="1089.05" y="554.1" width="1.6" height="36.4" fill="#f23645"/>
<rect x="1085.85" y="558.0" width="8.0" height="25.7" fill="#f23645"/>
<rect x="1098.68" y="562.4" width="1.6" height="21.3" fill="#089981"/>
<rect x="1095.48" y="562.4" width="8.0" height="21.3" fill="#089981"/>
<rect x="1108.32" y="545.2" width="1.6" height="39.2" fill="#089981"/>
<rect x="1105.12" y="551.2" width="8.0" height="11.9" fill="#089981"/>
<rect x="1117.95" y="533.3" width="1.6" height="18.2" fill="#089981"/>
<rect x="1114.75" y="540.0" width="8.0" height="11.5" fill="#089981"/>
<rect x="1127.58" y="463.1" width="1.6" height="78.7" fill="#089981"/>
<rect x="1124.38" y="463.1" width="8.0" height="77.4" fill="#089981"/>
<rect x="1137.21" y="462.0" width="1.6" height="34.8" fill="#f23645"/>
<rect x="1134.01" y="462.0" width="8.0" height="12.6" fill="#f23645"/>
<rect x="1146.84" y="474.6" width="1.6" height="10.0" fill="#f23645"/>
<rect x="1143.64" y="474.6" width="8.0" height="8.3" fill="#f23645"/>
<rect x="1156.48" y="472.3" width="1.6" height="17.7" fill="#089981"/>
<rect x="1153.28" y="472.3" width="8.0" height="10.6" fill="#089981"/>
<rect x="1166.11" y="470.1" width="1.6" height="42.4" fill="#f23645"/>
<rect x="1162.91" y="471.6" width="8.0" height="40.9" fill="#f23645"/>
<rect x="1175.74" y="506.4" width="1.6" height="18.4" fill="#f23645"/>
<rect x="1172.54" y="512.2" width="8.0" height="2.0" fill="#f23645"/>
<rect x="1185.37" y="506.4" width="1.6" height="25.3" fill="#f23645"/>
<rect x="1182.17" y="514.2" width="8.0" height="17.5" fill="#f23645"/>
<rect x="1195.00" y="506.4" width="1.6" height="27.6" fill="#089981"/>
<rect x="1191.80" y="519.8" width="8.0" height="11.9" fill="#089981"/>
<rect x="1204.64" y="433.1" width="1.6" height="87.2" fill="#089981"/>
<rect x="1201.44" y="433.1" width="8.0" height="87.2" fill="#089981"/>
<rect x="1214.27" y="425.2" width="1.6" height="42.4" fill="#f23645"/>
<rect x="1211.07" y="433.1" width="8.0" height="34.5" fill="#f23645"/>
<rect x="1223.90" y="467.2" width="1.6" height="56.5" fill="#f23645"/>
<rect x="1220.70" y="467.2" width="8.0" height="35.4" fill="#f23645"/>
<rect x="1233.53" y="485.1" width="1.6" height="32.5" fill="#089981"/>
<rect x="1230.33" y="488.9" width="8.0" height="13.7" fill="#089981"/>
<rect x="1243.16" y="454.2" width="1.6" height="34.7" fill="#089981"/>
<rect x="1239.96" y="458.9" width="8.0" height="30.0" fill="#089981"/>
<rect x="1252.80" y="448.1" width="1.6" height="51.6" fill="#f23645"/>
<rect x="1249.60" y="458.9" width="8.0" height="35.1" fill="#f23645"/>
<rect x="1262.43" y="474.3" width="1.6" height="41.2" fill="#f23645"/>
<rect x="1259.23" y="494.0" width="8.0" height="11.2" fill="#f23645"/>
<rect x="1272.06" y="469.6" width="1.6" height="34.7" fill="#089981"/>
<rect x="1268.86" y="469.6" width="8.0" height="34.7" fill="#089981"/>
<rect x="1281.69" y="467.5" width="1.6" height="27.1" fill="#f23645"/>
<rect x="1278.49" y="469.8" width="8.0" height="4.7" fill="#f23645"/>
<rect x="1291.32" y="473.8" width="1.6" height="28.5" fill="#f23645"/>
<rect x="1288.12" y="473.8" width="8.0" height="16.8" fill="#f23645"/>
<rect x="1300.96" y="471.1" width="1.6" height="26.9" fill="#089981"/>
<rect x="1297.76" y="474.9" width="8.0" height="15.7" fill="#089981"/>
<rect x="1310.59" y="474.5" width="1.6" height="55.3" fill="#f23645"/>
<rect x="1307.39" y="474.5" width="8.0" height="55.3" fill="#f23645"/>
<rect x="1320.22" y="520.9" width="1.6" height="20.6" fill="#f23645"/>
<rect x="1317.02" y="529.8" width="8.0" height="8.3" fill="#f23645"/>
<rect x="1329.85" y="500.0" width="1.6" height="40.0" fill="#089981"/>
<rect x="1326.65" y="505.6" width="8.0" height="32.8" fill="#089981"/>
<rect x="1339.48" y="505.2" width="1.6" height="60.3" fill="#f23645"/>
<rect x="1336.28" y="505.2" width="8.0" height="60.3" fill="#f23645"/>
<rect x="1349.12" y="565.3" width="1.6" height="83.4" fill="#f23645"/>
<rect x="1345.92" y="565.3" width="8.0" height="83.4" fill="#f23645"/>
<rect x="1358.75" y="643.1" width="1.6" height="52.8" fill="#089981"/>
<rect x="1355.55" y="645.4" width="8.0" height="3.3" fill="#089981"/>
<rect x="1368.38" y="631.1" width="1.6" height="45.9" fill="#f23645"/>
<rect x="1365.18" y="645.4" width="8.0" height="6.1" fill="#f23645"/>
<rect x="1378.01" y="643.7" width="1.6" height="93.9" fill="#f23645"/>
<rect x="1374.81" y="651.1" width="8.0" height="80.6" fill="#f23645"/>
<rect x="1387.64" y="713.0" width="1.6" height="23.7" fill="#089981"/>
<rect x="1384.44" y="713.0" width="8.0" height="18.7" fill="#089981"/>
<rect x="1397.28" y="713.0" width="1.6" height="64.8" fill="#f23645"/>
<rect x="1394.08" y="713.0" width="8.0" height="52.4" fill="#f23645"/>
<rect x="1406.91" y="737.6" width="1.6" height="60.2" fill="#089981"/>
<rect x="1403.71" y="747.4" width="8.0" height="18.0" fill="#089981"/>
<rect x="1416.54" y="733.0" width="1.6" height="54.6" fill="#089981"/>
<rect x="1413.34" y="740.4" width="8.0" height="7.2" fill="#089981"/>
<rect x="1426.17" y="554.5" width="1.6" height="203.5" fill="#089981"/>
<rect x="1422.97" y="554.5" width="8.0" height="186.1" fill="#089981"/>
<rect x="1435.80" y="449.3" width="1.6" height="105.6" fill="#089981"/>
<rect x="1432.60" y="457.3" width="8.0" height="97.6" fill="#089981"/>
<rect x="1445.44" y="397.2" width="1.6" height="60.3" fill="#089981"/>
<rect x="1442.24" y="445.4" width="8.0" height="12.1" fill="#089981"/>
<rect x="1455.07" y="428.1" width="1.6" height="74.4" fill="#f23645"/>
<rect x="1451.87" y="444.9" width="8.0" height="43.7" fill="#f23645"/>
<rect x="1464.70" y="484.1" width="1.6" height="75.6" fill="#f23645"/>
<rect x="1461.50" y="488.0" width="8.0" height="57.3" fill="#f23645"/>
<rect x="1474.33" y="509.9" width="1.6" height="45.3" fill="#089981"/>
<rect x="1471.13" y="538.4" width="8.0" height="6.9" fill="#089981"/>
<rect x="1483.96" y="498.3" width="1.6" height="68.1" fill="#f23645"/>
<rect x="1480.76" y="538.4" width="8.0" height="13.0" fill="#f23645"/>
<rect x="1493.60" y="494.2" width="1.6" height="57.2" fill="#089981"/>
<rect x="1490.40" y="525.2" width="8.0" height="26.2" fill="#089981"/>
<rect x="1503.23" y="525.2" width="1.6" height="53.3" fill="#f23645"/>
<rect x="1500.03" y="525.2" width="8.0" height="53.3" fill="#f23645"/>
<rect x="1512.86" y="530.6" width="1.6" height="63.7" fill="#089981"/>
<rect x="1509.66" y="551.0" width="8.0" height="27.3" fill="#089981"/>
<rect x="1522.49" y="551.0" width="1.6" height="85.8" fill="#f23645"/>
<rect x="1519.29" y="551.0" width="8.0" height="80.9" fill="#f23645"/>
<rect x="1532.12" y="612.2" width="1.6" height="24.6" fill="#089981"/>
<rect x="1528.92" y="627.0" width="8.0" height="4.9" fill="#089981"/>
<rect x="1541.76" y="598.3" width="1.6" height="32.2" fill="#089981"/>
<rect x="1538.56" y="598.3" width="8.0" height="28.7" fill="#089981"/>
<rect x="1551.39" y="597.7" width="1.6" height="140.1" fill="#f23645"/>
<rect x="1548.19" y="597.7" width="8.0" height="123.7" fill="#f23645"/>
<rect x="1561.02" y="718.6" width="1.6" height="113.9" fill="#f23645"/>
<rect x="1557.82" y="721.4" width="8.0" height="108.3" fill="#f23645"/>
<rect x="1570.65" y="777.0" width="1.6" height="73.2" fill="#089981"/>
<rect x="1567.45" y="795.6" width="8.0" height="34.1" fill="#089981"/>
<rect x="1580.28" y="710.5" width="1.6" height="90.6" fill="#089981"/>
<rect x="1577.08" y="712.9" width="8.0" height="83.3" fill="#089981"/>
<rect x="1589.92" y="704.2" width="1.6" height="41.4" fill="#f23645"/>
<rect x="1586.72" y="712.9" width="8.0" height="24.9" fill="#f23645"/>
<rect x="1599.55" y="655.1" width="1.6" height="85.9" fill="#089981"/>
<rect x="1596.35" y="678.3" width="8.0" height="60.2" fill="#089981"/>
<rect x="1609.18" y="623.7" width="1.6" height="78.3" fill="#089981"/>
<rect x="1605.98" y="623.7" width="8.0" height="55.9" fill="#089981"/>
<rect x="1618.81" y="560.4" width="1.6" height="63.3" fill="#089981"/>
<rect x="1615.61" y="573.9" width="8.0" height="49.8" fill="#089981"/>
<rect x="1628.44" y="503.2" width="1.6" height="82.3" fill="#089981"/>
<rect x="1625.24" y="508.8" width="8.0" height="65.5" fill="#089981"/>
<rect x="1638.08" y="477.4" width="1.6" height="34.1" fill="#089981"/>
<rect x="1634.88" y="485.3" width="8.0" height="24.2" fill="#089981"/>
<rect x="1647.71" y="451.0" width="1.6" height="34.7" fill="#089981"/>
<rect x="1644.51" y="457.9" width="8.0" height="27.8" fill="#089981"/>
<rect x="1657.34" y="457.9" width="1.6" height="68.2" fill="#f23645"/>
<rect x="1654.14" y="457.9" width="8.0" height="51.4" fill="#f23645"/>
<rect x="1666.97" y="481.9" width="1.6" height="44.2" fill="#089981"/>
<rect x="1663.77" y="494.9" width="8.0" height="15.1" fill="#089981"/>
<rect x="1676.60" y="428.6" width="1.6" height="76.9" fill="#089981"/>
<rect x="1673.40" y="428.6" width="8.0" height="66.8" fill="#089981"/>
<rect x="1686.24" y="402.3" width="1.6" height="26.3" fill="#089981"/>
<rect x="1683.04" y="413.1" width="8.0" height="15.5" fill="#089981"/>
<rect x="1695.87" y="409.5" width="1.6" height="67.3" fill="#f23645"/>
<rect x="1692.67" y="413.1" width="8.0" height="63.7" fill="#f23645"/>
<rect x="1705.50" y="476.8" width="1.6" height="110.5" fill="#f23645"/>
<rect x="1702.30" y="476.8" width="8.0" height="110.5" fill="#f23645"/>
<rect x="1715.13" y="463.5" width="1.6" height="142.2" fill="#089981"/>
<rect x="1711.93" y="463.5" width="8.0" height="123.1" fill="#089981"/>
<rect x="1724.76" y="424.8" width="1.6" height="75.1" fill="#f23645"/>
<rect x="1721.56" y="464.0" width="8.0" height="35.9" fill="#f23645"/>
<rect x="1734.40" y="494.3" width="1.6" height="94.1" fill="#f23645"/>
<rect x="1731.20" y="499.2" width="8.0" height="89.2" fill="#f23645"/>
<rect x="1744.03" y="543.1" width="1.6" height="45.3" fill="#089981"/>
<rect x="1740.83" y="543.1" width="8.0" height="45.3" fill="#089981"/>
<rect x="1753.66" y="481.5" width="1.6" height="76.7" fill="#089981"/>
<rect x="1750.46" y="506.1" width="8.0" height="37.7" fill="#089981"/>
<rect x="1763.29" y="504.3" width="1.6" height="72.9" fill="#f23645"/>
<rect x="1760.09" y="507.0" width="8.0" height="2.3" fill="#f23645"/>
<rect x="1772.92" y="488.7" width="1.6" height="67.2" fill="#f23645"/>
<rect x="1769.72" y="508.8" width="8.0" height="13.5" fill="#f23645"/>
<rect x="1782.56" y="431.9" width="1.6" height="94.2" fill="#089981"/>
<rect x="1779.36" y="446.1" width="8.0" height="76.2" fill="#089981"/>
<rect x="1792.19" y="403.0" width="1.6" height="43.7" fill="#089981"/>
<rect x="1788.99" y="407.9" width="8.0" height="38.8" fill="#089981"/>
<rect x="1801.82" y="364.9" width="1.6" height="1.7" fill="#089981"/>
<rect x="1798.62" y="364.9" width="8.0" height="1.7" fill="#089981"/>
<line x1="16.08" y1="366" x2="1904" y2="366" stroke="#089981" stroke-width="1.7" stroke-dasharray="1.7 3.1145"/>
<rect x="15.5" y="15.5" width="2017" height="1" fill="#e0e3eb"/>
<rect x="15.5" y="968.9" width="2017" height="1" fill="#e0e3eb"/>
<rect x="15.5" y="15.5" width="1" height="954.4" fill="#e0e3eb"/>
<rect x="2031.5" y="15.5" width="1" height="954.4" fill="#e0e3eb"/>
<rect x="16" y="924.7" width="1887.8" height="1" fill="#e0e3eb"/>
<rect x="1905" y="924.7" width="127" height="1" fill="#e0e3eb"/>
<text x="1917.3" y="29" class="ax" textLength="52.3" lengthAdjust="spacing">25.60</text>
<text x="1917.3" y="86" class="ax" textLength="52.3" lengthAdjust="spacing">25.40</text>
<text x="1917.3" y="143" class="ax" textLength="52.3" lengthAdjust="spacing">25.20</text>
<text x="1917.3" y="200" class="ax" textLength="52.3" lengthAdjust="spacing">25.00</text>
<text x="1917.3" y="257" class="ax" textLength="52.3" lengthAdjust="spacing">24.80</text>
<text x="1917.3" y="314" class="ax" textLength="52.3" lengthAdjust="spacing">24.60</text>
<text x="1917.3" y="429" class="ax" textLength="52.3" lengthAdjust="spacing">24.20</text>
<text x="1917.3" y="486" class="ax" textLength="52.3" lengthAdjust="spacing">24.00</text>
<text x="1917.3" y="543" class="ax" textLength="52.3" lengthAdjust="spacing">23.80</text>
<text x="1917.3" y="600" class="ax" textLength="52.3" lengthAdjust="spacing">23.60</text>
<text x="1917.3" y="657" class="ax" textLength="52.3" lengthAdjust="spacing">23.40</text>
<text x="1917.3" y="714" class="ax" textLength="52.3" lengthAdjust="spacing">23.20</text>
<text x="1917.3" y="771" class="ax" textLength="52.3" lengthAdjust="spacing">23.00</text>
<text x="1917.3" y="829" class="ax" textLength="52.3" lengthAdjust="spacing">22.80</text>
<text x="1917.3" y="886" class="ax" textLength="52.3" lengthAdjust="spacing">22.60</text>
<rect x="1905" y="0" width="127" height="16.1" fill="#fff"/><rect x="1905" y="15.5" width="127" height="1" fill="#e0e3eb"/>
<path d="M1904 352.2H1976a3 3 0 0 1 3 3V376.7a3 3 0 0 1 -3 3H1904Z" fill="#089981"/>
<text x="1917.3" y="373" class="ax" style="fill:#fff" textLength="52.6" lengthAdjust="spacing">24.40</text>
<path d="M1904 723.2H2020a3.8 3.8 0 0 1 3.8 3.8V746a3.8 3.8 0 0 1 -3.8 3.8H1904Z" fill="#22ab94"/>
<text x="1917" y="743.2" class="ax" style="fill:#fff"><tspan textLength="77" lengthAdjust="spacing">741.267</tspan><tspan x="1997.6">M</tspan></text>
<text x="194.08" y="955" class="tm" text-anchor="middle">27</text>
<text x="425.24" y="955" class="tm" text-anchor="middle">28</text>
<text x="656.41" y="955" class="tm" text-anchor="middle">29</text>
<text x="887.58" y="955" class="tm" text-anchor="middle">30</text>
<text x="1118.75" y="955" class="tm" text-anchor="middle">31</text>
<text x="1349.92" y="955" class="tm b" text-anchor="middle">Sep</text>
<text x="1581.08" y="955" class="tm" text-anchor="middle">2</text>
<text x="1812.25" y="955" class="tm" text-anchor="middle">3</text>
<text x="29.8" y="48" class="lg" textLength="275.5" lengthAdjust="spacing">AVAX/USD, 1h, CoinMarketCap</text>
<text x="316.8" y="48" class="lg">O</text><text x="332" y="48" class="lg up" textLength="51.2" lengthAdjust="spacing">24.40</text>
<text x="395.2" y="48" class="lg">H</text><text x="410.4" y="48" class="lg up" textLength="51.2" lengthAdjust="spacing">24.40</text>
<text x="473.2" y="48" class="lg">L</text><text x="485" y="48" class="lg up" textLength="51.2" lengthAdjust="spacing">24.40</text>
<text x="547" y="48" class="lg">C</text><text x="562.7" y="48" class="lg up" textLength="51.2" lengthAdjust="spacing">24.40</text>
<text x="625.3" y="48" class="lg up" textLength="139.3" lengthAdjust="spacing">+0.15 (+0.60%)</text>
<text x="29.8" y="75.4" class="lg" textLength="65.6" lengthAdjust="spacing">Volume</text>
<text x="106.8" y="75.4" class="lg vu"><tspan textLength="71.5" lengthAdjust="spacing">741.267</tspan><tspan x="180.6">M</tspan></text>
<g transform="translate(16 985.2) scale(0.89 0.875)" fill="#131722"><path d="M14 22H7V11H0V4h14v18zM28 22h-8l7.5-18h8L28 22z"/><circle cx="20" cy="8" r="4"/></g>
<text x="53.5" y="1005.3" style="font-size:21.5px;fill:#131722">TradingView</text>
</svg>
</body></html>
